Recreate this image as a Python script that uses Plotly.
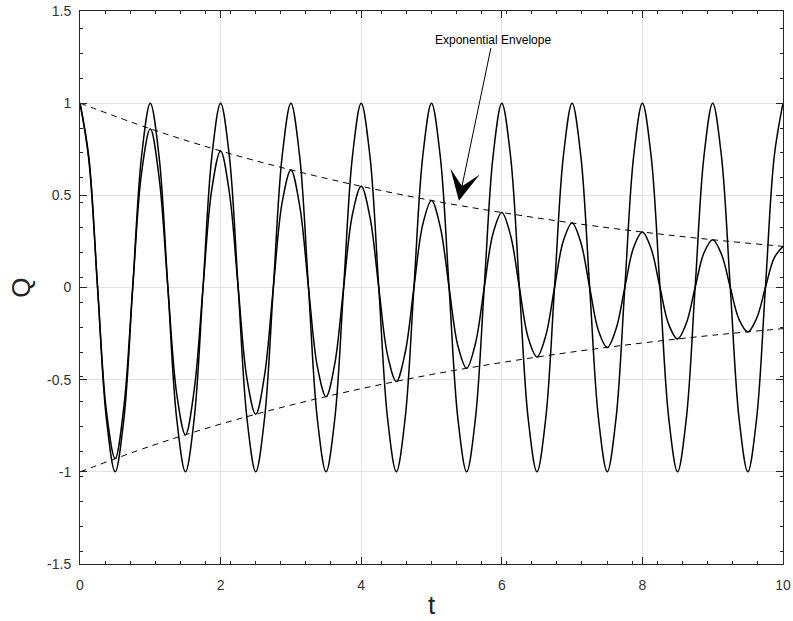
import plotly.graph_objects as go

# time samples (eighth of a period)
t = [i * 0.125 for i in range(81)]

# undamped oscillation, read per period
q_undamped = (
    [1.0, 0.71, 0.0, -0.71, -1.0, -0.71, 0.0, 0.71] * 10 + [1.0]
)

# damped oscillation, read per period
q_damped = [
    1.000, 0.694, 0.0, -0.668, -0.928, -0.644, 0.0, 0.620,
    0.861, 0.597, 0.0, -0.575, -0.799, -0.554, 0.0, 0.534,
    0.741, 0.514, 0.0, -0.495, -0.688, -0.477, 0.0, 0.460,
    0.638, 0.443, 0.0, -0.426, -0.592, -0.411, 0.0, 0.396,
    0.549, 0.381, 0.0, -0.367, -0.510, -0.354, 0.0, 0.341,
    0.472, 0.328, 0.0, -0.316, -0.438, -0.304, 0.0, 0.293,
    0.407, 0.282, 0.0, -0.272, -0.377, -0.262, 0.0, 0.252,
    0.350, 0.243, 0.0, -0.234, -0.325, -0.225, 0.0, 0.217,
    0.301, 0.209, 0.0, -0.201, -0.280, -0.194, 0.0, 0.187,
    0.259, 0.180, 0.0, -0.173, -0.241, -0.167, 0.0, 0.161,
    0.223,
]

# envelope
t_env = [0, 1, 2, 3, 4, 5, 6, 7, 8, 9, 10]
env_upper = [1.0, 0.861, 0.741, 0.638, 0.549, 0.472, 0.407, 0.350, 0.301, 0.259, 0.223]
env_lower = [-v for v in env_upper]

x_ticks = [0, 2, 4, 6, 8, 10]
y_ticks = [-1.5, -1, -0.5, 0, 0.5, 1, 1.5]
y_tick_text = ["-1.5", "-1", "-0.5", "0", "0.5", "1", "1.5"]

fig = go.Figure()
line_solid = dict(color="black", width=1.5, shape="spline", smoothing=1)
line_dash = dict(color="black", width=1, dash="6px,5px", shape="spline")

fig.add_trace(go.Scatter(x=t, y=q_undamped, mode="lines", line=line_solid, showlegend=False))
fig.add_trace(go.Scatter(x=t, y=q_damped, mode="lines", line=line_solid, showlegend=False))
fig.add_trace(go.Scatter(x=t_env, y=env_upper, mode="lines", line=line_dash, showlegend=False))
fig.add_trace(go.Scatter(x=t_env, y=env_lower, mode="lines", line=line_dash, showlegend=False))

fig.add_annotation(
    x=5.39, y=0.47, xref="x", yref="y",
    ax=5.87, ay=1.345, axref="x", ayref="y",
    text="Exponential Envelope", showarrow=True,
    arrowhead=3, arrowsize=5, arrowwidth=1, arrowcolor="black",
    font=dict(family="Liberation Sans, Arial", size=12, color="black"),
)

axis_common = dict(
    showline=True, linecolor="#262626", linewidth=1, mirror="ticks",
    ticks="inside", ticklen=7, tickcolor="#262626",
    showgrid=True, gridcolor="#e3e3e3", gridwidth=1,
    zeroline=False, automargin=False,
    tickfont=dict(family="Liberation Sans, Arial", size=14, color="#333333"),
    title_font=dict(family="Liberation Sans, Arial", size=26, color="#222222"),
)

fig.update_xaxes(
    range=[0, 10], tickvals=x_ticks, ticktext=[str(v) for v in x_ticks],
    title_text="t", title_standoff=4, ticklabelstandoff=8,
    minor=dict(ticks="inside", ticklen=3, dtick=0.357, tick0=0, tickcolor="#262626", showgrid=False),
    **axis_common,
)
fig.update_yaxes(
    range=[-1.5, 1.5], tickvals=y_ticks, ticktext=y_tick_text,
    title_text="Q", title_standoff=8, ticklabelstandoff=5,
    minor=dict(ticks="inside", ticklen=3, dtick=0.135, tick0=1, tickcolor="#262626", showgrid=False),
    **axis_common,
)

fig.update_layout(
    width=793, height=621,
    margin=dict(l=80, r=10, t=11, b=57),
    paper_bgcolor="white", plot_bgcolor="white",
    font=dict(family="Liberation Sans, Arial"),
)

fig.write_html(
    "out.html",
    config={"displayModeBar": False},
    post_script="document.body.style.margin='0';document.body.style.overflow='hidden';",
)
